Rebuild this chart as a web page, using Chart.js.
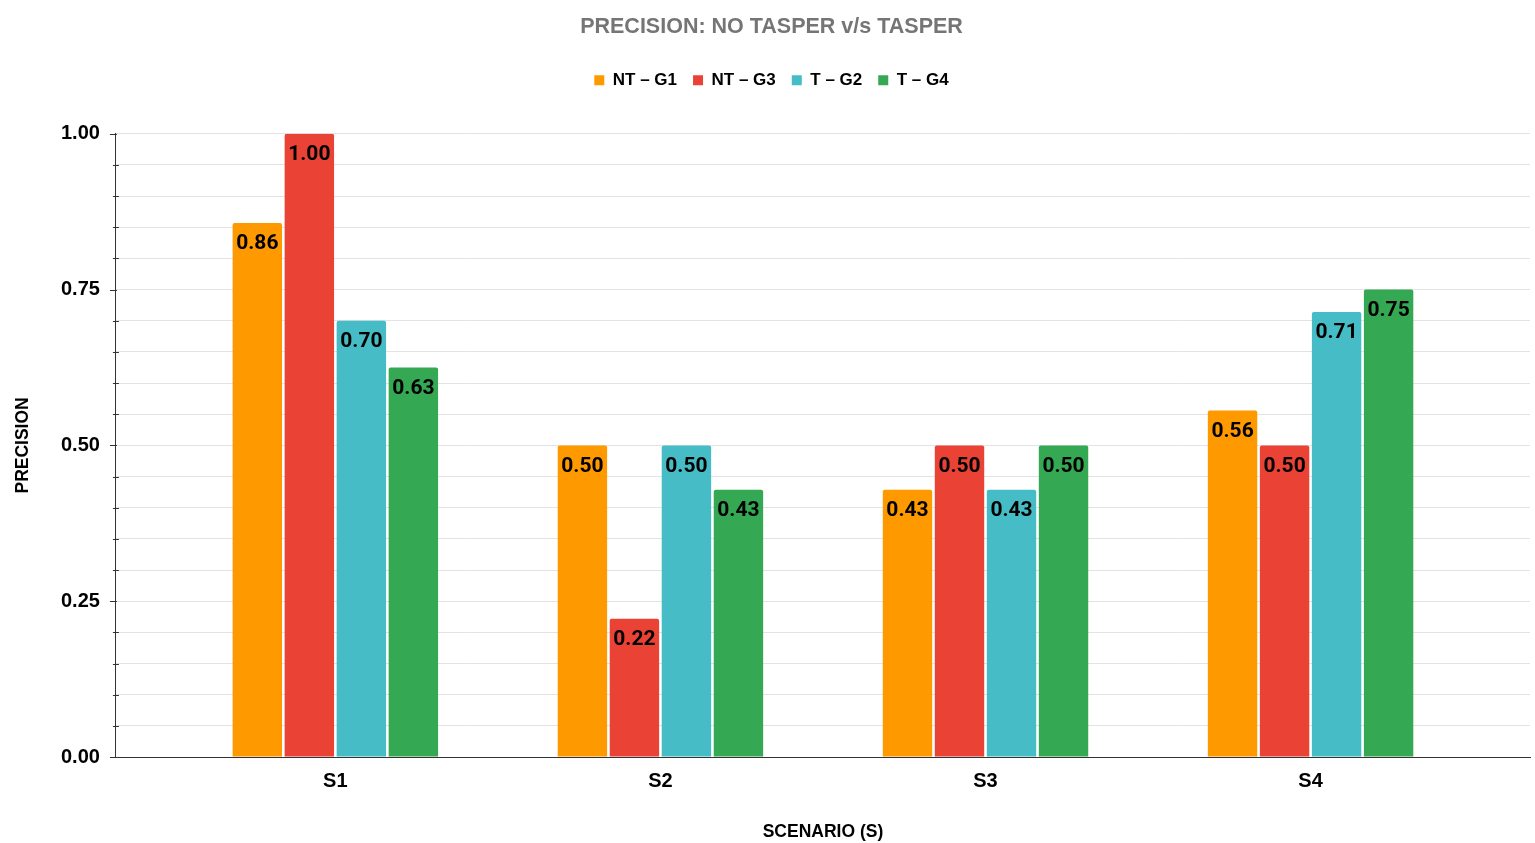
<!DOCTYPE html>
<html>
<head>
<meta charset="utf-8">
<script src="https://cdn.jsdelivr.net/npm/chart.js@4.4.1/dist/chart.umd.min.js"></script>
<style>
  html, body { margin: 0; padding: 0; background: #fff; }
  #wrap { width: 1535px; height: 843px; }
</style>
</head>
<body>
<div id="wrap"><canvas id="precisionChart"></canvas></div>
<script>
const scenarios = ['S1', 'S2', 'S3', 'S4'];
const seriesNames = ['NT – G1', 'NT – G3', 'T – G2', 'T – G4'];
const ntG1 = [0.857, 0.50, 0.429, 0.556];
const ntG3 = [1.00, 0.222, 0.50, 0.50];
const tG2 = [0.70, 0.50, 0.429, 0.714];
const tG4 = [0.625, 0.429, 0.50, 0.75];
const majorTicks = [0, 0.25, 0.5, 0.75, 1];

const colors = ['#ff9900', '#ea4335', '#46bdc6', '#34a853'];
const FONT = '"Liberation Sans", Arial, sans-serif';

// value labels drawn inside the top of each bar
const barLabels = {
    id: 'barLabels',
    afterDatasetsDraw(chart) {
        const ctx = chart.ctx;
        ctx.save();
        ctx.font = 'bold 21px Roboto, sans-serif';
        ctx.fillStyle = '#000';
        ctx.textAlign = 'center';
        ctx.textBaseline = 'middle';
        chart.data.datasets.forEach((ds, i) => {
            chart.getDatasetMeta(i).data.forEach((bar, j) => {
                ctx.fillText(ds.data[j].y.toFixed(2), bar.x, bar.y + 21);
            });
        });
        ctx.restore();
    }
};

// major / minor tick marks on the y axis
const yTickMarks = {
    id: 'yTickMarks',
    afterDraw(chart) {
        const ctx = chart.ctx;
        const y = chart.scales.y;
        const x0 = y.right;
        ctx.save();
        ctx.strokeStyle = '#333';
        ctx.lineWidth = 1;
        y.ticks.forEach(t => {
            const py = Math.round(y.getPixelForValue(t.value)) + 0.5;
            const major = majorTicks.some(m => Math.abs(m - t.value) < 1e-6);
            ctx.beginPath();
            if (major) {
                ctx.moveTo(x0 - 6, py);
                ctx.lineTo(x0 + 1, py);
            } else {
                ctx.moveTo(x0 - 3, py);
                ctx.lineTo(x0 + 3, py);
            }
            ctx.stroke();
        });
        ctx.restore();
    }
};

// extra room under the legend
const legendGap = {
    id: 'legendGap',
    beforeInit(chart) {
        const fit = chart.legend.fit;
        chart.legend.fit = function () {
            fit.bind(chart.legend)();
            this.height += 35;
        };
    }
};

const makeData = arr => arr.map((v, i) => ({ x: i, y: v }));

new Chart(document.getElementById('precisionChart'), {
    type: 'bar',
    data: {
        datasets: [ntG1, ntG3, tG2, tG4].map((arr, i) => ({
            label: seriesNames[i],
            data: makeData(arr),
            backgroundColor: colors[i],
            borderWidth: 0,
            borderRadius: { topLeft: 2, topRight: 2 },
            borderSkipped: 'bottom',
            barPercentage: 0.95,
            categoryPercentage: 0.64
        }))
    },
    options: {
        responsive: true,
        maintainAspectRatio: false,
        animation: false,
        layout: { padding: { left: 13, right: 5, top: 4, bottom: 0 } },
        plugins: {
            title: {
                display: true,
                text: 'PRECISION: NO TASPER v/s TASPER',
                color: '#757575',
                font: { family: FONT, size: 21.5, weight: 'bold' },
                padding: { top: 10, bottom: 16 }
            },
            legend: {
                position: 'top',
                labels: {
                    color: '#000',
                    font: { family: FONT, size: 17, weight: 'bold' },
                    boxWidth: 10,
                    boxHeight: 10,
                    padding: 16
                }
            },
            tooltip: { enabled: false }
        },
        scales: {
            x: {
                type: 'linear',
                offset: false,
                min: -0.675,
                max: 3.675,
                afterBuildTicks: scale => {
                    scale.ticks = scenarios.map((s, i) => ({ value: i }));
                },
                ticks: {
                    autoSkip: false,
                    maxRotation: 0,
                    color: '#000',
                    font: { family: FONT, size: 20, weight: 'bold' },
                    padding: 4,
                    callback: v => scenarios[v]
                },
                grid: { display: false, offset: false },
                border: { display: true, color: '#333', width: 1 },
                title: {
                    display: true,
                    text: 'SCENARIO (S)',
                    color: '#000',
                    font: { family: FONT, size: 17.5, weight: 'bold' },
                    padding: { top: 25, bottom: 0 }
                }
            },
            y: {
                min: 0,
                max: 1,
                ticks: {
                    stepSize: 0.05,
                    autoSkip: false,
                    color: '#000',
                    font: { family: FONT, size: 20, weight: 'bold' },
                    padding: 16,
                    callback: v => majorTicks.some(m => Math.abs(m - v) < 1e-6) ? v.toFixed(2) : ''
                },
                grid: { color: '#e3e3e3', drawTicks: false },
                border: { display: true, color: '#333', width: 1 },
                title: {
                    display: true,
                    text: 'PRECISION',
                    color: '#000',
                    font: { family: FONT, size: 17.5, weight: 'bold' },
                    padding: { top: 0, bottom: 11 }
                }
            }
        }
    },
    plugins: [barLabels, yTickMarks, legendGap]
});
</script>
</body>
</html>
